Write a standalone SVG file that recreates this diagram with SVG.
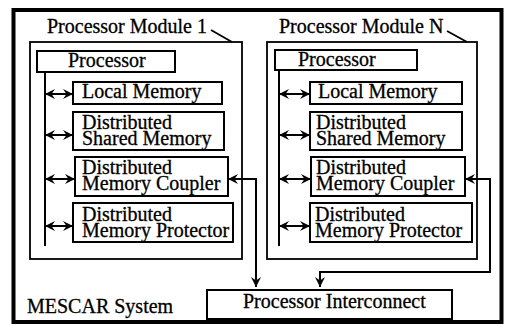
<svg xmlns="http://www.w3.org/2000/svg" width="507" height="326" viewBox="0 0 507 326">
<style>
text{font-family:"Liberation Serif","Times New Roman",serif;font-size:20px;fill:#000;stroke:#000;stroke-width:0.3}
.b{fill:#fff;stroke:#000;stroke-width:2}
.m{fill:none;stroke:#000;stroke-width:1.8}
.c{fill:none;stroke:#000;stroke-width:2}
</style>
<defs>
<marker id="ah" viewBox="0 0 10 10" refX="10" refY="5" markerWidth="10" markerHeight="12" markerUnits="userSpaceOnUse" orient="auto-start-reverse">
<path d="M0,0 L10,5 L0,10 L3.5,5 z" fill="#000"/>
</marker>
</defs>
<rect x="0" y="0" width="507" height="326" fill="#fff"/>
<g id="system">
<rect x="13.5" y="10" width="488" height="312" fill="none" stroke="#000" stroke-width="4"/>
<text x="27" y="313">MESCAR System</text>
</g>
<g id="module1">
<rect class="m" x="30" y="42" width="212" height="217"/>
<text x="47" y="33">Processor Module 1</text>
<path class="m" d="M211,30 L232,42"/>
</g>
<g id="processor1"><rect class="b" x="37" y="51" width="138" height="21"/><text x="68" y="67">Processor</text></g>
<g id="localmem1"><rect class="b" x="73" y="82" width="149" height="22"/><text x="82" y="98">Local Memory</text></g>
<g id="dsm1"><rect class="b" x="73" y="112" width="151" height="38"/><text><tspan x="82" y="129">Distributed</tspan><tspan x="82" y="145">Shared Memory</tspan></text></g>
<g id="dmc1"><rect class="b" x="75" y="157" width="153" height="39"/><text><tspan x="82" y="174">Distributed</tspan><tspan x="82" y="190">Memory Coupler</tspan></text></g>
<g id="dmp1"><rect class="b" x="73" y="203" width="160" height="39"/><text><tspan x="82" y="221">Distributed</tspan><tspan x="82" y="237">Memory Protector</tspan></text></g>
<g id="moduleN">
<rect class="m" x="267" y="42" width="210" height="217"/>
<text x="279" y="33">Processor Module N</text>
<path class="m" d="M447,31 L467,42"/>
</g>
<g id="processorN"><rect class="b" x="275" y="50" width="142" height="20"/><text x="298" y="66">Processor</text></g>
<g id="localmemN"><rect class="b" x="310" y="82" width="152" height="22"/><text x="318" y="98">Local Memory</text></g>
<g id="dsmN"><rect class="b" x="310" y="112" width="152" height="38"/><text><tspan x="316" y="129">Distributed</tspan><tspan x="316" y="145">Shared Memory</tspan></text></g>
<g id="dmcN"><rect class="b" x="311" y="157" width="154" height="39"/><text><tspan x="316" y="174">Distributed</tspan><tspan x="316" y="190">Memory Coupler</tspan></text></g>
<g id="dmpN"><rect class="b" x="310" y="203" width="162" height="39"/><text><tspan x="315" y="221">Distributed</tspan><tspan x="315" y="237">Memory Protector</tspan></text></g>
<g id="interconnect"><rect class="b" x="207" y="290" width="245" height="29"/><text x="243" y="308">Processor Interconnect</text></g>
<g id="connectors">
<path class="c" d="M45,72 L45,246"/>
<path class="c" d="M45,94 L73,94" marker-start="url(#ah)" marker-end="url(#ah)"/>
<path class="c" d="M45,135 L73,135" marker-start="url(#ah)" marker-end="url(#ah)"/>
<path class="c" d="M45,179 L75,179" marker-start="url(#ah)" marker-end="url(#ah)"/>
<path class="c" d="M45,226 L73,226" marker-start="url(#ah)" marker-end="url(#ah)"/>
<path class="c" d="M279,70 L279,246"/>
<path class="c" d="M279,94 L310,94" marker-start="url(#ah)" marker-end="url(#ah)"/>
<path class="c" d="M279,135 L310,135" marker-start="url(#ah)" marker-end="url(#ah)"/>
<path class="c" d="M279,179 L311,179" marker-start="url(#ah)" marker-end="url(#ah)"/>
<path class="c" d="M279,226 L310,226" marker-start="url(#ah)" marker-end="url(#ah)"/>
<path class="c" d="M228,179 L256,179 L256,287" marker-start="url(#ah)" marker-end="url(#ah)"/>
<path class="c" d="M465,179 L490,179 L490,272 L320,272 L320,287" marker-start="url(#ah)" marker-end="url(#ah)"/>
</g>
</svg>
